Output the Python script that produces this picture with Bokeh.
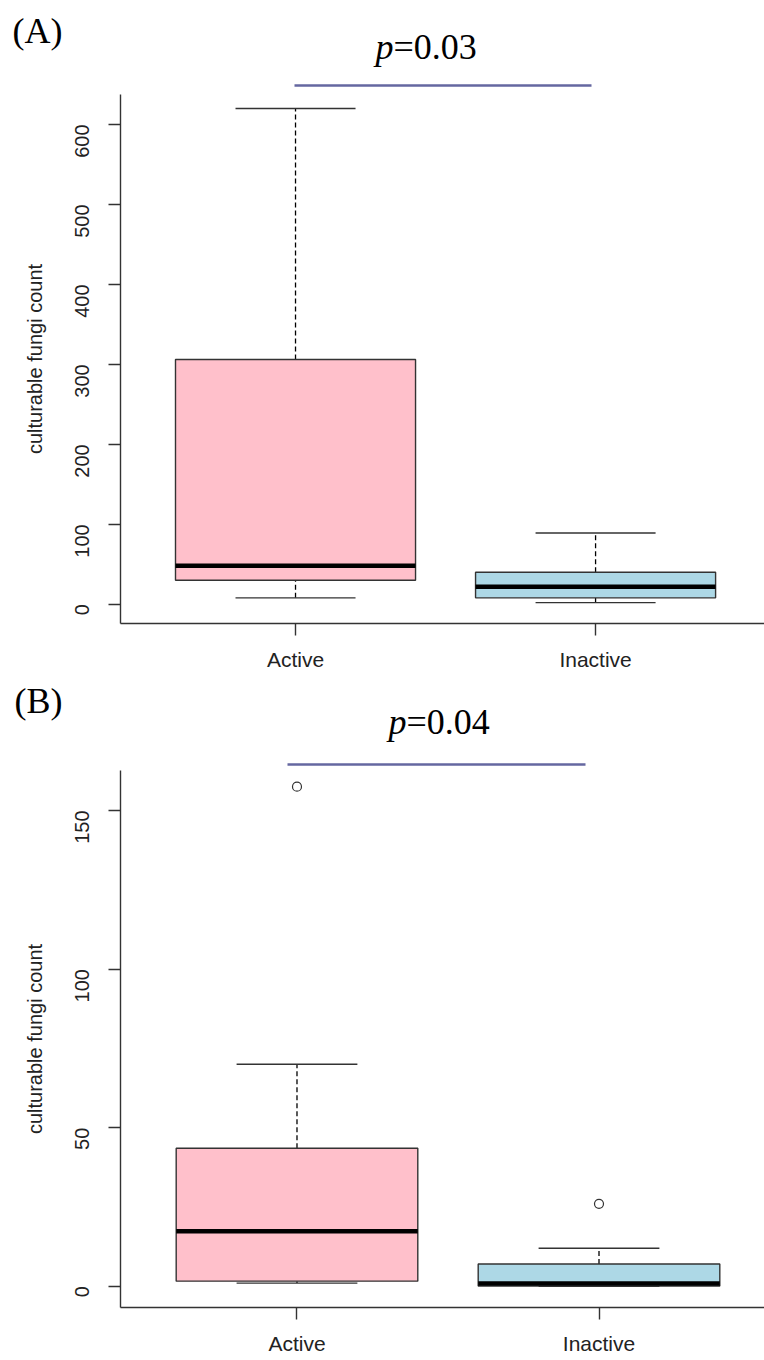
from bokeh.plotting import figure
from bokeh.layouts import column
from bokeh.models import Range1d, FixedTicker, Label
from bokeh.embed import file_html
from bokeh.resources import INLINE
import math

# ---------------- data ----------------
groups = ["Active", "Inactive"]
colors = ["#FFC0CB", "#ADD8E6"]

# Panel A (five-number summaries)
a_lower = [8, 2]
a_q1 = [30, 8]
a_median = [48, 22]
a_q3 = [306, 40]
a_upper = [620, 89]
a_out_group = []
a_out_value = []
a_ticks = [0, 100, 200, 300, 400, 500, 600]
a_pvalue = "=0.03"

# Panel B
b_lower = [1, 0]
b_q1 = [1.6, 0.1]
b_median = [17.3, 0.9]
b_q3 = [43.5, 7]
b_upper = [70, 12]
b_out_group = [1, 2]
b_out_value = [157.5, 26]
b_ticks = [0, 50, 100, 150]
b_pvalue = "=0.04"

ylabel = "culturable fungi count"
EDGE = "#333333"
PLINE = "#6567a0"
W = 764
LEFT = 120


def make_header(tag, ptxt, height, tag_y, p_x, p_y, line_x0, line_x1, line_y):
    """Header strip above a panel: panel tag, p-value and comparison bar (pixel coords)."""
    h = figure(width=W, height=height, output_backend="svg", toolbar_location=None,
               x_range=Range1d(LEFT, W), y_range=Range1d(height, 0),
               min_border_left=LEFT, min_border_right=0,
               min_border_top=0, min_border_bottom=0)
    h.xaxis.visible = False
    h.grid.visible = False
    h.outline_line_color = None
    h.background_fill_color = "white"
    h.border_fill_color = "white"
    # panel tag drawn as the single tick label of an otherwise invisible left axis
    ya = h.yaxis[0]
    ya.ticker = FixedTicker(ticks=[tag_y])
    ya.major_label_overrides = {tag_y: tag}
    ya.axis_line_color = None
    ya.major_tick_line_color = None
    ya.major_tick_out = 0
    ya.major_tick_in = 0
    ya.minor_tick_line_color = None
    ya.major_label_orientation = "horizontal"
    ya.major_label_text_font = "Liberation Serif"
    ya.major_label_text_font_size = "36px"
    ya.major_label_text_color = "black"
    ya.major_label_standoff = 58

    h.add_layout(Label(x=p_x, y=p_y, text="p", text_font="Liberation Serif",
                       text_font_style="italic", text_font_size="36px",
                       text_baseline="alphabetic", text_align="right", text_color="black"))
    h.add_layout(Label(x=p_x, y=p_y, text=ptxt, text_font="Liberation Serif",
                       text_font_size="36px", text_baseline="alphabetic",
                       text_align="left", text_color="black"))
    h.segment(x0=[line_x0], x1=[line_x1], y0=[line_y], y1=[line_y],
              line_color=PLINE, line_width=2.6)
    return h


def make_panel(lower, q1, med, q3, upper, out_g, out_v, ticks,
               yrange, xrange, height, bottom_border):
    p = figure(width=W, height=height, output_backend="svg", toolbar_location=None,
               x_range=Range1d(*xrange), y_range=Range1d(*yrange),
               min_border_left=LEFT, min_border_right=0,
               min_border_top=0, min_border_bottom=bottom_border)
    p.outline_line_color = None
    p.xgrid.visible = False
    p.ygrid.visible = False
    p.background_fill_color = "white"
    p.border_fill_color = "white"

    xs = [i + 1 for i in range(len(groups))]
    bw = 0.8
    cw = 0.4

    # dashed whiskers
    p.segment(x0=xs, x1=xs, y0=q3, y1=upper, line_color="black", line_width=1.3,
              line_dash="5 3")
    p.segment(x0=xs, x1=xs, y0=lower, y1=q1, line_color="black", line_width=1.3,
              line_dash="5 3")
    # caps
    p.segment(x0=[x - cw / 2 for x in xs], x1=[x + cw / 2 for x in xs], y0=upper, y1=upper,
              line_color=EDGE, line_width=1.4)
    p.segment(x0=[x - cw / 2 for x in xs], x1=[x + cw / 2 for x in xs], y0=lower, y1=lower,
              line_color=EDGE, line_width=1.4)
    # boxes
    p.vbar(x=xs, width=bw, top=q3, bottom=q1, fill_color=colors, line_color=EDGE,
           line_width=1.4)
    # medians
    p.segment(x0=[x - bw / 2 for x in xs], x1=[x + bw / 2 for x in xs], y0=med, y1=med,
              line_color="black", line_width=4.5)
    # outliers
    if out_g:
        p.scatter(x=out_g, y=out_v, marker="circle", size=9, fill_color=None,
                  line_color=EDGE, line_width=1.2)

    # axes
    for ax in (p.xaxis[0], p.yaxis[0]):
        ax.axis_line_color = EDGE
        ax.axis_line_width = 1.4
        ax.major_tick_line_color = EDGE
        ax.major_tick_line_width = 1.4
        ax.major_tick_out = 12
        ax.major_tick_in = 0
        ax.minor_tick_line_color = None
        ax.major_label_text_font = "Liberation Sans"
        ax.major_label_text_color = "#222222"
    p.yaxis.ticker = FixedTicker(ticks=ticks)
    p.yaxis.major_label_orientation = math.pi / 2
    p.yaxis.major_label_text_font_size = "20px"
    p.yaxis.major_label_standoff = 26
    p.yaxis.axis_label = ylabel
    p.yaxis.axis_label_text_font = "Liberation Sans"
    p.yaxis.axis_label_text_font_style = "normal"
    p.yaxis.axis_label_text_font_size = "20px"
    p.yaxis.axis_label_text_color = "#222222"
    p.yaxis.axis_label_standoff = 20

    p.xaxis.ticker = FixedTicker(ticks=xs)
    p.xaxis.major_label_overrides = {x: g for x, g in zip(xs, groups)}
    p.xaxis.major_label_text_font_size = "21px"
    p.xaxis.major_label_standoff = 12
    return p


ha = make_header("(A)", a_pvalue, 94, tag_y=30, p_x=393, p_y=46,
                 line_x0=294, line_x1=591, line_y=85)
pa = make_panel(a_lower, a_q1, a_median, a_q3, a_upper, a_out_group, a_out_value,
                a_ticks, yrange=(-24.1, 637.5), xrange=(0.4167, 2.563),
                height=586, bottom_border=57)
hb = make_header("(B)", b_pvalue, 90, tag_y=20, p_x=406, p_y=41,
                 line_x0=287, line_x1=585, line_y=84)
pb = make_panel(b_lower, b_q1, b_median, b_q3, b_upper, b_out_group, b_out_value,
                b_ticks, yrange=(-6.7, 162.6), xrange=(0.4156, 2.548),
                height=590, bottom_border=53)

layout = column(ha, pa, hb, pb, spacing=0)
open("out.html", "w").write(file_html(layout, INLINE))
